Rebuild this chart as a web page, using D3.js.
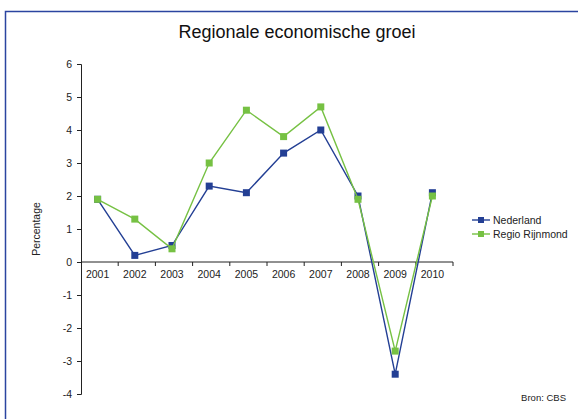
<!DOCTYPE html>
<html>
<head>
<meta charset="utf-8">
<script src="https://cdn.jsdelivr.net/npm/d3@7"></script>
<style>
  body { margin: 0; background: #fff; }
  svg { font-family: "Liberation Sans", Arial, sans-serif; }
</style>
</head>
<body>
<svg id="chart" width="578" height="419"></svg>
<script>
var years = ["2001", "2002", "2003", "2004", "2005", "2006", "2007", "2008", "2009", "2010"];
var nederland = [1.9, 0.2, 0.5, 2.3, 2.1, 3.3, 4.0, 2.0, -3.4, 2.1];
var rijnmond = [1.9, 1.3, 0.4, 3.0, 4.6, 3.8, 4.7, 1.9, -2.7, 2.0];
var yTicks = [-4, -3, -2, -1, 0, 1, 2, 3, 4, 5, 6];

var seriesList = [
    { name: "Nederland", values: nederland, color: "#233f94" },
    { name: "Regio Rijnmond", values: rijnmond, color: "#76c143" }
];

var svg = d3.select("#chart");

// blue frame round the chart
svg.append("rect")
    .attr("x", 5.5)
    .attr("y", 11.5)
    .attr("width", 600)
    .attr("height", 420)
    .attr("fill", "none")
    .attr("stroke", "#2b44a0")
    .attr("stroke-width", 1.5);

svg.append("text")
    .attr("x", 297)
    .attr("y", 38)
    .attr("text-anchor", "middle")
    .attr("font-size", 18)
    .attr("fill", "#111")
    .text("Regionale economische groei");

var xScale = d3.scaleBand().domain(years).range([81, 453]);
var yScale = d3.scaleLinear().domain([-4, 6]).range([394, 64]);

// y axis, hyphen minus like the original
var yAxis = svg.append("g")
    .attr("transform", "translate(81,0)")
    .call(d3.axisLeft(yScale).tickValues(yTicks).tickSize(4).tickPadding(5).tickFormat(d => String(d)));
yAxis.select(".domain").attr("stroke", "#222");
yAxis.selectAll(".tick line").attr("stroke", "#222");
yAxis.selectAll("text").attr("font-size", 10.5).attr("fill", "#222").attr("font-family", "Liberation Sans, Arial, sans-serif");

// x axis at zero, ticks between categories
var xAxis = svg.append("g")
    .attr("transform", `translate(0,${yScale(0)})`);
xAxis.append("line")
    .attr("x1", 81).attr("x2", 453)
    .attr("stroke", "#222");
xAxis.selectAll("line.tk")
    .data(years)
    .enter()
    .append("line")
    .attr("class", "tk")
    .attr("x1", d => xScale(d) + xScale.bandwidth())
    .attr("x2", d => xScale(d) + xScale.bandwidth())
    .attr("y1", 0).attr("y2", 4)
    .attr("stroke", "#222");
xAxis.selectAll("text")
    .data(years)
    .enter()
    .append("text")
    .attr("x", d => xScale(d) + xScale.bandwidth() / 2 - 2)
    .attr("y", 16)
    .attr("text-anchor", "middle")
    .attr("font-size", 10.5)
    .attr("fill", "#222")
    .text(d => d);

// y label
svg.append("text")
    .attr("transform", "translate(40,229) rotate(-90)")
    .attr("text-anchor", "middle")
    .attr("font-size", 10.5)
    .attr("fill", "#222")
    .text("Percentage");

var line = d3.line()
    .x((d, i) => xScale(years[i]) + xScale.bandwidth() / 2 - 2)
    .y(d => yScale(d));

seriesList.forEach(function (s) {
    svg.append("path")
        .datum(s.values)
        .attr("d", line)
        .attr("fill", "none")
        .attr("stroke", s.color)
        .attr("stroke-width", 1.4);
    svg.append("g").selectAll("rect")
        .data(s.values)
        .enter()
        .append("rect")
        .attr("x", (d, i) => xScale(years[i]) + xScale.bandwidth() / 2 - 2 - 3.5)
        .attr("y", d => yScale(d) - 3.5)
        .attr("width", 7)
        .attr("height", 7)
        .attr("fill", s.color);
});

// legend
var legend = svg.append("g");
seriesList.forEach(function (s, i) {
    var ly = 220 + i * 14;
    legend.append("line")
        .attr("x1", 472).attr("x2", 490)
        .attr("y1", ly).attr("y2", ly)
        .attr("stroke", s.color)
        .attr("stroke-width", 1.4);
    legend.append("rect")
        .attr("x", 478).attr("y", ly - 3)
        .attr("width", 6).attr("height", 6)
        .attr("fill", s.color);
    legend.append("text")
        .attr("x", 493)
        .attr("y", ly + 3.5)
        .attr("font-size", 10.5)
        .attr("fill", "#222")
        .text(s.name);
});

svg.append("text")
    .attr("x", 566)
    .attr("y", 401)
    .attr("text-anchor", "end")
    .attr("font-size", 9.5)
    .attr("fill", "#222")
    .text("Bron: CBS");
</script>
</body>
</html>
